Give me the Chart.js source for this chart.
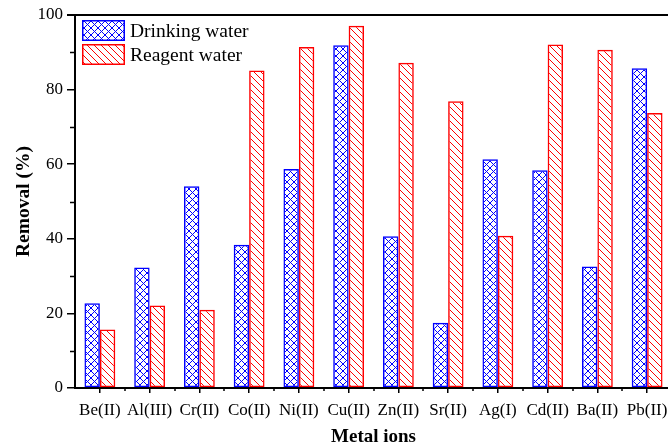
<!DOCTYPE html>
<html>
<head>
<meta charset="utf-8">
<script src="https://cdn.jsdelivr.net/npm/chart.js@4.4.1/dist/chart.umd.min.js"></script>
<style>
  html, body { margin: 0; padding: 0; background: #fff; overflow: hidden; }
  #wrap { width: 675px; height: 448px; position: relative; }
</style>
</head>
<body>
<div id="wrap"><canvas id="chart"></canvas></div>
<script>
// Metal ion removal (%) in two water matrices
const categories = ['Be(II)', 'Al(III)', 'Cr(II)', 'Co(II)', 'Ni(II)', 'Cu(II)',
                    'Zn(II)', 'Sr(II)', 'Ag(I)', 'Cd(II)', 'Ba(II)', 'Pb(II)'];
const drinkingWater = [22.7, 32.3, 54.1, 38.4, 58.7, 91.9, 40.7, 17.5, 61.3, 58.4, 32.6, 85.7];
const reagentWater  = [15.7, 22.1, 21.0, 85.1, 91.4, 97.1, 87.2, 76.9, 40.8, 92.1, 90.7, 73.7];
const seriesNames = ['Drinking water', 'Reagent water'];
const yTickValues = [0, 20, 40, 60, 80, 100];
const yMinorValues = [10, 30, 50, 70, 90];

const BLUE = '#0000ff';
const RED = '#ff0000';
const SERIF = "'Liberation Serif', 'Times New Roman', serif";

// hatch fills: blue cross-hatch, red back-slash hatch
function makePattern(color, cross) {
  const s = 7;
  const c = document.createElement('canvas');
  c.width = s; c.height = s;
  const g = c.getContext('2d');
  g.strokeStyle = color;
  g.lineWidth = 1;
  g.beginPath();
  g.moveTo(-1, -1); g.lineTo(s + 1, s + 1);
  if (cross) { g.moveTo(-1, s + 1); g.lineTo(s + 1, -1); }
  g.stroke();
  return g.createPattern(c, 'repeat');
}
const bluePattern = makePattern(BLUE, true);
const redPattern = makePattern(RED, false);

// frame extras: top border line, minor ticks, in-plot legend
const extras = {
  id: 'extras',
  afterDraw(chart) {
    const { ctx, chartArea: a, scales: { x, y } } = chart;
    ctx.save();
    ctx.strokeStyle = '#000';
    ctx.lineWidth = 2;
    ctx.beginPath();
    ctx.moveTo(a.left - 8, a.top);
    ctx.lineTo(a.right + 5, a.top);
    ctx.stroke();

    ctx.lineWidth = 1.5;
    ctx.beginPath();
    yMinorValues.forEach(v => {
      const py = Math.round(y.getPixelForValue(v)) + 0.5;
      ctx.moveTo(a.left - 5, py); ctx.lineTo(a.left, py);
    });
    for (let i = 0; i < categories.length; i++) {
      const px = Math.round(x.getPixelForValue(i) + (x.getPixelForValue(1) - x.getPixelForValue(0)) / 2);
      ctx.moveTo(px, a.bottom); ctx.lineTo(px, a.bottom + 3);
    }
    ctx.stroke();

    // legend
    const fills = [bluePattern, redPattern];
    const strokes = [BLUE, RED];
    const bx = 82, bw = 43, bh = 21;
    const tops = [20, 44];
    ctx.font = '19.5px ' + SERIF;
    ctx.textBaseline = 'middle';
    ctx.fillStyle = '#000';
    chart.data.datasets.forEach((ds, i) => {
      ctx.fillStyle = fills[i];
      ctx.fillRect(bx, tops[i], bw, bh);
      ctx.strokeStyle = strokes[i];
      ctx.lineWidth = 1.5;
      ctx.strokeRect(bx + 0.75, tops[i] + 0.75, bw - 1.5, bh - 1.5);
      ctx.fillStyle = '#000';
      ctx.fillText(ds.label, bx + bw + 5, tops[i] + bh / 2 + 1);
    });
    ctx.restore();
  }
};

new Chart(document.getElementById('chart'), {
  type: 'bar',
  data: {
    labels: categories,
    datasets: [
      { label: seriesNames[0], data: drinkingWater, backgroundColor: bluePattern,
        borderColor: BLUE, borderWidth: 1.5, borderSkipped: false },
      { label: seriesNames[1], data: reagentWater, backgroundColor: redPattern,
        borderColor: RED, borderWidth: 1.5, borderSkipped: false }
    ]
  },
  options: {
    responsive: true,
    maintainAspectRatio: false,
    animation: false,
    datasets: { bar: { categoryPercentage: 0.62, barPercentage: 1.0 } },
    layout: { padding: { left: 0, right: 3, top: 15, bottom: 0 } },
    plugins: { legend: { display: false }, tooltip: { enabled: false } },
    scales: {
      x: {
        type: 'category',
        offset: true,
        grid: { display: true, offset: false, drawOnChartArea: false, drawTicks: true,
                tickLength: 5, color: '#000', lineWidth: 1.5 },
        border: { display: true, color: '#000', width: 2 },
        ticks: { color: '#000', font: { family: SERIF, size: 17 }, padding: 7, maxRotation: 0, autoSkip: false },
        title: { display: true, text: 'Metal ions', color: '#000',
                 font: { family: SERIF, size: 19, weight: 'bold' }, padding: { top: 0, bottom: 0 } },
        afterFit(scale) { scale.height = 60; }
      },
      y: {
        min: 0, max: 100,
        afterBuildTicks(scale) { scale.ticks = yTickValues.map(v => ({ value: v })); },
        grid: { display: true, drawOnChartArea: false, drawTicks: true, tickLength: 8,
                color: '#000', lineWidth: 1.5 },
        border: { display: true, color: '#000', width: 2 },
        ticks: { color: '#000', font: { family: SERIF, size: 17 }, padding: 4 },
        title: { display: true, text: 'Removal (%)', color: '#000',
                 font: { family: SERIF, size: 19.5, weight: 'bold' }, padding: { top: 12, bottom: 0 } },
        afterFit(scale) { scale.width = 75; }
      }
    }
  },
  plugins: [extras]
});
</script>
</body>
</html>
